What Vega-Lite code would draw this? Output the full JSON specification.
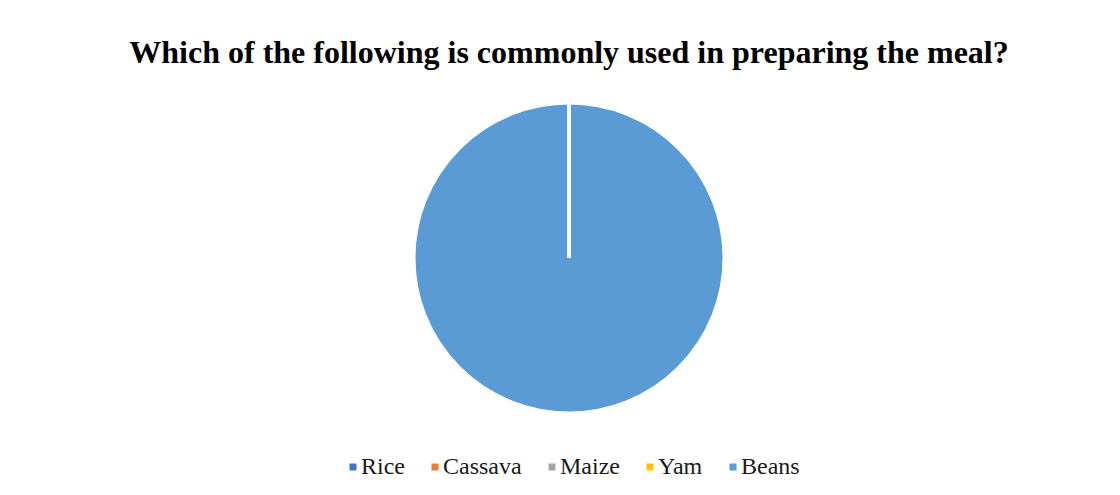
{
  "$schema": "https://vega.github.io/schema/vega-lite/v6.json",
  "width": 1102,
  "height": 400,
  "autosize": {"type": "none"},
  "padding": {"left": 18, "right": 0, "top": 58, "bottom": 37},
  "background": "white",
  "title": {
    "text": "Which of the following is commonly used in preparing the meal?",
    "font": "Liberation Serif",
    "fontSize": 32,
    "fontWeight": "bold",
    "color": "#000000",
    "anchor": "middle",
    "offset": -12
  },
  "data": {
    "values": [
      {"item": "Beans", "value": 100},
      {"item": "Rice", "value": 0},
      {"item": "Cassava", "value": 0},
      {"item": "Maize", "value": 0},
      {"item": "Yam", "value": 0}
    ]
  },
  "mark": {"type": "arc", "outerRadius": 155, "stroke": "white", "strokeWidth": 3},
  "encoding": {
    "theta": {"field": "value", "type": "quantitative", "stack": true},
    "color": {
      "field": "item",
      "type": "nominal",
      "sort": ["Rice", "Cassava", "Maize", "Yam", "Beans"],
      "scale": {
        "domain": ["Rice", "Cassava", "Maize", "Yam", "Beans"],
        "range": ["#4472C4", "#ED7D31", "#A5A5A5", "#FFC000", "#5B9BD5"]
      },
      "legend": {
        "orient": "none",
        "legendX": 323,
        "legendY": 397,
        "direction": "horizontal",
        "title": null,
        "symbolType": "square",
        "symbolSize": 49,
        "symbolStrokeWidth": 0,
        "labelFont": "Liberation Serif",
        "labelFontSize": 24,
        "labelColor": "#1a1a1a",
        "labelOffset": -4,
        "columnPadding": 18
      }
    }
  },
  "config": {"view": {"stroke": null}}
}
